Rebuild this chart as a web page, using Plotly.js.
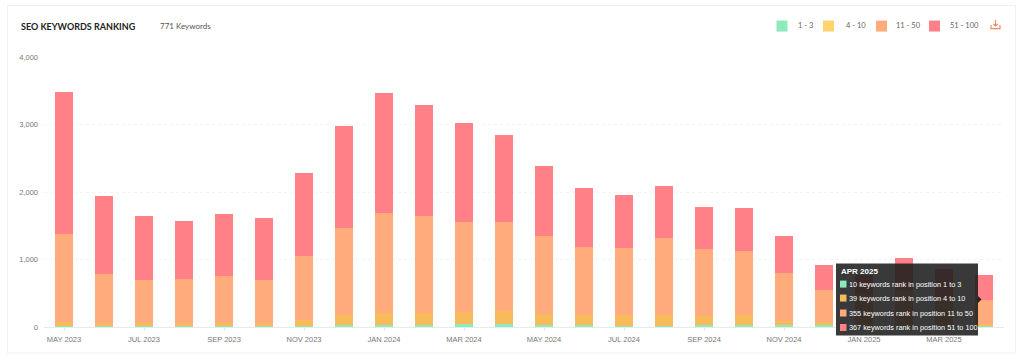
<!DOCTYPE html>
<html><head><meta charset="utf-8">
<script src="https://cdn.plot.ly/plotly-3.0.1.min.js"></script>
<style>html,body{margin:0;padding:0;background:#fff}#c{width:1024px;height:364px}</style>
</head><body><div id="c"></div>
<script>
const months=["MAY 2023","JUN 2023","JUL 2023","AUG 2023","SEP 2023","OCT 2023","NOV 2023","DEC 2023","JAN 2024","FEB 2024","MAR 2024","APR 2024","MAY 2024","JUN 2024","JUL 2024","AUG 2024","SEP 2024","OCT 2024","NOV 2024","DEC 2024","JAN 2025","FEB 2025","MAR 2025","APR 2025"];
const pos1to3=[20,15,15,15,15,15,20,35,35,35,40,40,30,30,20,20,25,30,25,25,15,15,15,10];
const pos4to10=[60,45,45,50,50,50,80,140,170,175,185,195,170,150,155,165,135,145,65,55,50,50,45,39];
const pos11to50=[1305,725,640,640,695,625,945,1285,1490,1430,1335,1325,1155,1000,1000,1140,990,945,705,475,420,490,370,355];
const pos51to100=[2099,1160,950,870,920,930,1240,1515,1775,1650,1465,1290,1035,880,785,765,635,645,560,370,290,470,435,367];
const tickIdx=[0,2,4,6,8,10,12,14,16,18,20,22];
const yTicks=[0,1000,2000,3000,4000];
const seriesNames=["1 - 3","4 - 10","11 - 50","51 - 100"];
const seriesColors=["#8ceabb","#f7bb5c","#ffab7c","#ff8087"];
const tipTitle="APR 2025";
const tipLines=["10 keywords rank in position 1 to 3","39 keywords rank in position 4 to 10","355 keywords rank in position 11 to 50","367 keywords rank in position 51 to 100"];
const tipColors=["#8ceabb","#f7bb5c","#ffab7c","#ff8087"];

const W=1024,H=364,L=44,R=1004,T=57,B=327.5;
const px=x=>(x-L)/(R-L), py=y=>(B-y)/(B-T);
const anns=[],shapes=[];
const txt=(x,y,text,size,color,family,anchor,extra)=>anns.push(Object.assign({xref:'paper',yref:'paper',x:px(x),y:py(y),text,showarrow:false,xanchor:anchor||'left',yanchor:'middle',font:{size,color,family},borderpad:0,captureevents:false},extra||{}));
const rect=(x0,y0,x1,y1,fill,line,layer)=>shapes.push({type:'rect',xref:'paper',yref:'paper',x0:px(x0),x1:px(x1),y0:py(y0),y1:py(y1),fillcolor:fill,line:line||{width:0},layer:layer||'above'});

// card
rect(7.5,5.5,1015.5,353.5,'rgba(0,0,0,0)',{color:'#f0f0f0',width:1},'below');
txt(20,26,'<b>SEO KEYWORDS RANKING</b>',9,'#222','Lato, Inter, sans-serif');
txt(158.5,26,'771 Keywords',8,'#555','Lato, sans-serif');
// legend
const lx=[776.5,823,876,929], tx=[797,845,895,949];
seriesNames.forEach((n,i)=>{rect(lx[i],20.5,lx[i]+11,31.5,seriesColors[i]==="#f7bb5c"?"#ffd36e":seriesColors[i]);txt(tx[i],25.5,n,7.5,'#666','Lato, sans-serif');});
// download icon
shapes.push({type:'path',xref:'paper',yref:'paper',path:`M ${px(991)} ${py(25)} L ${px(991)} ${py(28.5)} L ${px(1000)} ${py(28.5)} L ${px(1000)} ${py(25)}`,line:{color:'#f08a5d',width:1.2},layer:'above'});
shapes.push({type:'path',xref:'paper',yref:'paper',path:`M ${px(995.5)} ${py(20)} L ${px(995.5)} ${py(26)} M ${px(993.3)} ${py(24)} L ${px(995.5)} ${py(26)} L ${px(997.7)} ${py(24)}`,line:{color:'#f08a5d',width:1.2},layer:'above'});
// tooltip
rect(836,264,978,336,'rgba(30,30,30,0.88)');
txt(840,271.5,'<b>'+tipTitle+'</b>',8,'#fff','Liberation Sans, Arial, sans-serif');
const rowY=[284.5,298.5,313.5,328];
tipLines.forEach((t,i)=>{rect(840,rowY[i]-3.5,846.5,rowY[i]+3.5,tipColors[i]);txt(848,rowY[i],t,7.3,'#fff','Liberation Sans, Arial, sans-serif');});
shapes.push({type:'path',xref:'paper',yref:'paper',path:`M ${px(978)} ${py(296.5)} L ${px(981.5)} ${py(300)} L ${px(978)} ${py(303.5)} Z`,fillcolor:'rgba(20,20,20,0.9)',line:{width:0},layer:'above'});

const traces=[pos1to3,pos4to10,pos11to50,pos51to100].map((v,i)=>({type:'bar',x:months,y:v,name:seriesNames[i],marker:{color:seriesColors[i]},hoverinfo:'skip'}));
Plotly.newPlot('c',traces,{
 width:W,height:H,barmode:'stack',bargap:0.54,showlegend:false,
 margin:{l:L,r:W-R,t:T,b:H-B,pad:0},paper_bgcolor:'#fff',plot_bgcolor:'#fff',
 font:{family:'Liberation Sans, Arial, sans-serif',size:7.5,color:'#777'},
 xaxis:{type:'category',categoryorder:'array',categoryarray:months,range:[-0.5,months.length-0.5],tickmode:'array',tickvals:tickIdx.map(i=>months[i]),ticktext:tickIdx.map(i=>months[i]),tickangle:0,ticks:'outside',ticklen:3,tickwidth:1,tickcolor:'#e6e6e6',showgrid:false,showline:true,linecolor:'#e9e9e9',linewidth:1,zeroline:false,tickfont:{size:7.5,color:'#777'},ticklabelstandoff:2,fixedrange:true},
 yaxis:{range:[0,4000],tickmode:'array',tickvals:yTicks,tickformat:',d',showgrid:true,gridcolor:'#f3f3f3',griddash:'dot',gridwidth:1,zeroline:false,showline:false,ticks:'',tickfont:{size:7.5,color:'#777'},ticklabelstandoff:5,fixedrange:true},
 annotations:anns,shapes:shapes
},{displayModeBar:false,staticPlot:true});
</script></body></html>
